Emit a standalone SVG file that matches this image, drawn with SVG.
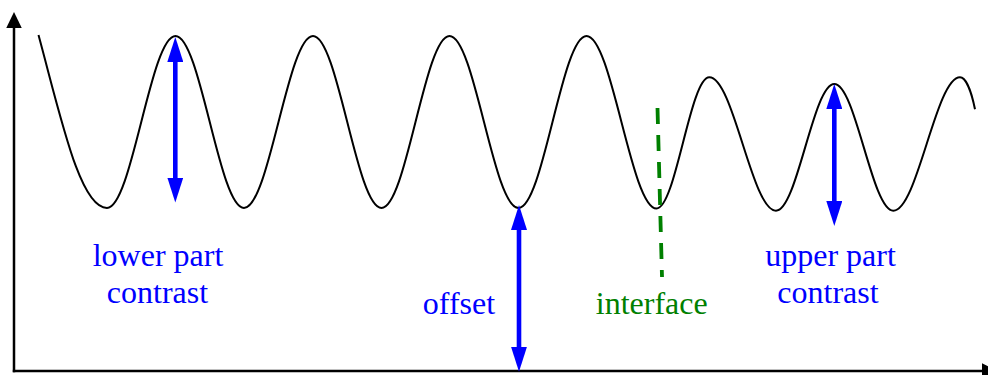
<svg xmlns="http://www.w3.org/2000/svg" width="988" height="375" viewBox="0 0 988 375">
<style>
.lbl{font-family:"Liberation Serif","Times New Roman",serif;font-size:32px;text-anchor:middle}
.blue{fill:#0000ff}
.green{fill:#008000}
.axis{stroke:#000;stroke-width:2.5;fill:none}
.arr{stroke:#0000ff;stroke-width:4.6;fill:none}
.wave{stroke:#000;stroke-width:2;fill:none}
</style>
<defs>
<marker id="bh" viewBox="0 0 25 16" refX="13" refY="8" markerWidth="25" markerHeight="16" markerUnits="userSpaceOnUse" orient="auto-start-reverse"><path d="M0,0 L25,8 L0,16 z" fill="#0000ff"/></marker>
<marker id="kh" viewBox="0 0 16 15.5" refX="4" refY="7.75" markerWidth="16" markerHeight="15.5" markerUnits="userSpaceOnUse" orient="auto"><path d="M0,0 L16,7.75 L0,15.5 z" fill="#000"/></marker>
</defs>
<g id="axes">
<line class="axis" x1="14" y1="372.2" x2="14" y2="24" marker-end="url(#kh)"/>
<line class="axis" x1="12.8" y1="371" x2="986" y2="371" marker-end="url(#kh)"/>
</g>
<g id="wave">
<path class="wave" d="M38.5,35 C61,118 80,208 107,208 C131.9,208 150.6,36 175.5,36 C200.4,36 219.1,208 244,208 C269.1,208 287.9,36 313,36 C337.9,36 356.6,208 381.5,208 C406.2,208 424.8,36 449.5,36 C474.6,36 493.4,208 518.5,208 C543.2,208 561.8,36 586.5,36 C611.9,36 631.1,208.5 656.5,208.5 C675.7,208.5 690.1,77.3 709.3,77.3 C733.5,77.3 751.8,210.7 776,210.7 C797.2,210.7 813.1,84 834.3,84 C855.7,84 871.9,210.7 893.3,210.7 C917.5,210.7 935.8,77.3 960,77.3 C966,77.3 971.5,92 975,109.3"/>
</g>
<g id="interface-line">
<line x1="657.5" y1="108" x2="662" y2="277" stroke="#008000" stroke-width="3.8" stroke-dasharray="16 11"/>
</g>
<g id="connectors">
<line class="arr" x1="175.3" y1="49" x2="175.3" y2="190.5" marker-start="url(#bh)" marker-end="url(#bh)"/>
<line class="arr" x1="519" y1="217" x2="519" y2="359.7" marker-start="url(#bh)" marker-end="url(#bh)"/>
<line class="arr" x1="834.3" y1="96" x2="834.3" y2="214" marker-start="url(#bh)" marker-end="url(#bh)"/>
</g>
<g id="lower-part-contrast">
<text class="lbl blue" x="158" y="266">lower part</text>
<text class="lbl blue" x="157.5" y="302.7">contrast</text>
</g>
<g id="offset">
<text class="lbl blue" x="459" y="314.3">offset</text>
</g>
<g id="interface">
<text class="lbl green" x="651.7" y="314.3">interface</text>
</g>
<g id="upper-part-contrast">
<text class="lbl blue" x="830.5" y="266">upper part</text>
<text class="lbl blue" x="828" y="302.7">contrast</text>
</g>
</svg>
